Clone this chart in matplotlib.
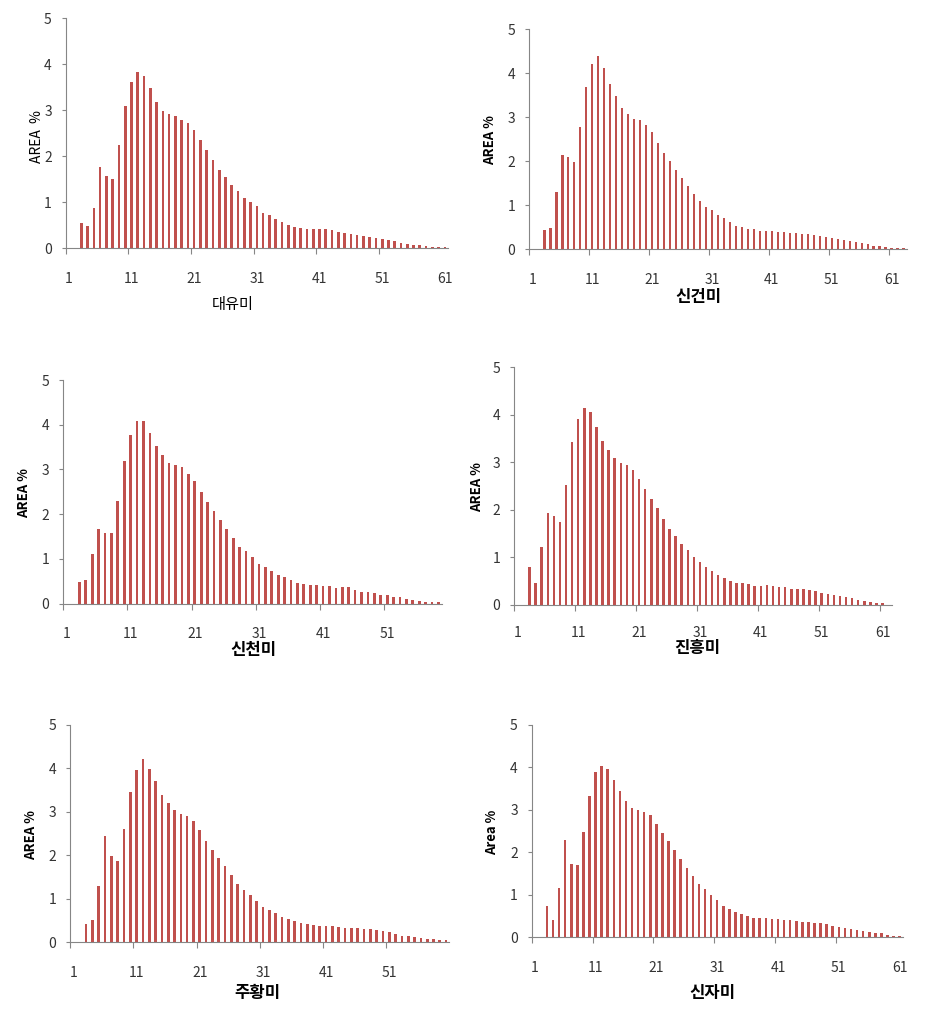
import matplotlib
matplotlib.use("Agg")
import matplotlib.pyplot as plt
import numpy as np

plt.rcParams['font.family'] = ['Noto Sans CJK KR', 'DejaVu Sans']

# bar heights start at category 3 in every panel
daeyu = [0.54, 0.49, 0.88, 1.77, 1.57, 1.51, 2.25, 3.09, 3.62, 3.84, 3.75, 3.48, 3.18, 2.99,
         2.91, 2.87, 2.79, 2.72, 2.57, 2.36, 2.13, 1.93, 1.71, 1.55, 1.38, 1.25, 1.10, 1.01,
         0.91, 0.77, 0.72, 0.64, 0.57, 0.51, 0.47, 0.44, 0.43, 0.42, 0.42, 0.41, 0.40, 0.36,
         0.33, 0.31, 0.28, 0.27, 0.25, 0.22, 0.20, 0.18, 0.15, 0.12, 0.10, 0.08, 0.07, 0.05,
         0.03, 0.02, 0.02]
singeon = [0.44, 0.48, 1.30, 2.14, 2.10, 1.99, 2.78, 3.68, 4.21, 4.39, 4.11, 3.76, 3.48, 3.22,
           3.07, 2.97, 2.93, 2.82, 2.66, 2.42, 2.20, 2.00, 1.81, 1.61, 1.44, 1.26, 1.10, 0.95,
           0.89, 0.77, 0.70, 0.62, 0.54, 0.51, 0.47, 0.45, 0.42, 0.42, 0.42, 0.39, 0.39, 0.36,
           0.36, 0.35, 0.34, 0.33, 0.30, 0.29, 0.26, 0.23, 0.21, 0.18, 0.16, 0.14, 0.11, 0.08,
           0.08, 0.05, 0.04, 0.02, 0.02]
sincheon = [0.49, 0.52, 1.10, 1.67, 1.59, 1.57, 2.30, 3.20, 3.78, 4.08, 4.08, 3.81, 3.52, 3.33,
            3.15, 3.10, 3.06, 2.90, 2.75, 2.50, 2.27, 2.07, 1.87, 1.67, 1.47, 1.26, 1.17, 1.04,
            0.89, 0.82, 0.72, 0.64, 0.59, 0.52, 0.47, 0.44, 0.42, 0.42, 0.40, 0.39, 0.34, 0.37,
            0.37, 0.31, 0.27, 0.26, 0.24, 0.19, 0.19, 0.14, 0.14, 0.11, 0.09, 0.07, 0.04, 0.03,
            0.03]
jinheung = [0.80, 0.47, 1.22, 1.94, 1.87, 1.75, 2.52, 3.42, 3.91, 4.15, 4.06, 3.75, 3.44, 3.26,
            3.09, 2.99, 2.95, 2.83, 2.66, 2.43, 2.24, 2.03, 1.81, 1.60, 1.46, 1.29, 1.15, 1.01,
            0.90, 0.80, 0.71, 0.63, 0.57, 0.51, 0.46, 0.46, 0.44, 0.39, 0.39, 0.42, 0.40, 0.37,
            0.37, 0.34, 0.33, 0.33, 0.31, 0.30, 0.25, 0.23, 0.21, 0.18, 0.16, 0.14, 0.11, 0.08,
            0.06, 0.05, 0.04]
juhwang = [0.43, 0.51, 1.29, 2.45, 1.98, 1.86, 2.60, 3.46, 3.96, 4.22, 3.99, 3.70, 3.40, 3.21,
           3.04, 2.96, 2.91, 2.78, 2.58, 2.34, 2.13, 1.95, 1.75, 1.56, 1.35, 1.20, 1.09, 0.95,
           0.82, 0.74, 0.67, 0.58, 0.54, 0.49, 0.44, 0.41, 0.40, 0.38, 0.38, 0.38, 0.35, 0.34,
           0.33, 0.33, 0.31, 0.31, 0.28, 0.26, 0.23, 0.20, 0.15, 0.15, 0.12, 0.10, 0.08, 0.08,
           0.05, 0.05]
sinja = [0.74, 0.41, 1.17, 2.29, 1.72, 1.70, 2.47, 3.32, 3.89, 4.03, 3.95, 3.71, 3.45, 3.21,
         3.05, 2.99, 2.94, 2.87, 2.66, 2.45, 2.26, 2.05, 1.83, 1.62, 1.44, 1.25, 1.13, 1.00,
         0.88, 0.74, 0.67, 0.59, 0.54, 0.49, 0.46, 0.45, 0.45, 0.43, 0.43, 0.41, 0.41, 0.38,
         0.36, 0.36, 0.34, 0.33, 0.31, 0.27, 0.24, 0.22, 0.20, 0.17, 0.15, 0.12, 0.10, 0.09,
         0.06, 0.04, 0.03]

names = ['대유미', '신건미', '신천미', '진흥미', '주황미', '신자미']
ylabels = ['AREA  %', 'AREA %', 'AREA %', 'AREA %', 'AREA %', 'Area %']
series = [daeyu, singeon, sincheon, jinheung, juhwang, sinja]
ncats = [61, 63, 59, 62, 60, 61]

W, H = 942, 1010
fig = plt.figure(figsize=(W / 100, H / 100), dpi=100)

# pixel boxes: left, right, top, bottom of each plot area
boxes = [(65.7, 448, 18.3, 248.3), (529.3, 906.7, 29.3, 249.3),
         (63.3, 441.7, 380, 603.7), (514.3, 891.7, 367.3, 605),
         (70.3, 449.3, 725, 942.3), (531.7, 902.7, 724.7, 937.3)]
title_pos = [(233, 305), (698, 297), (253, 650), (697, 648), (257, 993), (712, 993)]
ylab_pos = [(37, 137), (490, 140), (24, 493), (477, 487), (31, 835), (492, 832)]
bold = [False, True, True, True, True, True]

bar_color = '#c0504d'
axis_color = '#868686'

for i in range(6):
    l, r, t, b = boxes[i]
    ax = fig.add_axes([l / W, 1 - b / H, (r - l) / W, (b - t) / H])
    vals = series[i]
    x = np.arange(3, 3 + len(vals))
    ax.bar(x, vals, width=0.42, color=bar_color)
    ax.set_xlim(0.5, ncats[i] + 0.5)
    ax.set_ylim(0, 5)
    ax.set_yticks([0, 1, 2, 3, 4, 5])
    ax.set_xticks(np.arange(0.5, ncats[i] - 1, 10))
    ax.set_xticklabels([])
    ax.set_xticks(np.arange(1, ncats[i] + 1, 10), minor=True)
    ax.set_xticklabels([str(v) for v in range(1, ncats[i] + 1, 10)], minor=True)
    ax.tick_params(axis='x', which='major', length=4, color=axis_color)
    ax.tick_params(axis='x', which='minor', length=0, pad=17 if i != 3 else 15,
                   labelsize=10, labelcolor='#333333')
    ax.tick_params(axis='y', length=3, color=axis_color, pad=7, labelsize=10, labelcolor='#333333')
    for s in ['top', 'right']:
        ax.spines[s].set_visible(False)
    for s in ['left', 'bottom']:
        ax.spines[s].set_color(axis_color)
    tx, ty = title_pos[i]
    fig.text(tx / W, 1 - ty / H, names[i], ha='center', va='center',
             fontsize=11 if not bold[i] else 12, fontweight='bold' if bold[i] else 'normal')
    lx, ly = ylab_pos[i]
    fig.text(lx / W, 1 - ly / H, ylabels[i], ha='center', va='center', rotation=90,
             fontsize=10 if not bold[i] else 9.5, fontweight='bold' if bold[i] else 'normal')

fig.savefig('out.png', dpi=100)
